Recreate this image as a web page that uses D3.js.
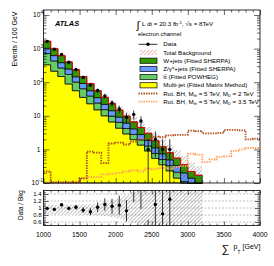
<!DOCTYPE html>
<html>
<head>
<meta charset="utf-8">
<script src="https://cdn.jsdelivr.net/npm/d3@7"></script>
<style>
  body { margin: 0; background: #fff; }
  svg { display: block; font-family: "Liberation Sans", Arial, sans-serif; }
</style>
</head>
<body>
<svg id="chart" width="274" height="266"></svg>
<script>
// background histograms, 100 GeV bins (lower edges)
const bkgBins = [1000,1100,1200,1300,1400,1500,1600,1700,1800,1900,2000,2100,2200,2300,2400,2500,2600,2700,2800,2900,3000,3100];
const wjets    = [631,380,234,151,89,56,35,21,13.5,8.7,5.6,3.7,2.5,1.7,1.15,0.7,0.46,0.31,0.22,0.15,0.08,0.07];
const zjets    = [315,190,117,76,44,28,17,10.6,6.7,4.4,2.8,1.9,1.3,0.85,0.6,0.36,0.24,0.16,0.12,0.09,0.07,0.06];
const ttbar    = [383,216,117,82,45,28.5,16,9,5.3,3.2,2.1,1.3,0.85,0.57,0.37,0.22,0.15,0.1,0.07,0.05,0.05,0.03];
const multijet = [331,214,148,89,56,35.5,22.9,15.1,10,6.6,4.3,2.9,1.95,1.35,0.9,0.54,0.35,0.23,0.14,0.06,0.02,0.01];
// relative uncertainty of total background
const bkgUncUp = [0.09,0.09,0.09,0.09,0.1,0.1,0.11,0.13,0.16,0.2,0.28,0.36,0.45,0.5,0.55,0.6,0.65,0.7,0.75,0.8,0.85,0.9];
const bkgUncDn = [0.18,0.18,0.18,0.18,0.18,0.19,0.2,0.21,0.23,0.26,0.3,0.36,0.42,0.48,0.52,0.56,0.6,0.65,0.7,0.75,0.8,0.85];
// observed events (first 18 bins)
const dataCounts = [1643,960,673,394,239,139,81,57,39,24,16,9,11,7,1,2,1,1];

// signal histograms over full range
const sigBins = [1000,1100,1200,1300,1400,1500,1600,1700,1800,1900,2000,2100,2200,2300,2400,2500,2600,2700,2800,2900,3000,3100,3200,3300,3400,3500,3600,3700,3800,3900];
const bhMD2  = [0.22,0.105,0.105,0.105,0.105,0.14,0.86,0.8,0.39,1.5,1.6,1.4,1.7,2.0,2.1,2.4,2.3,2.6,2.7,2.7,3.6,3.5,3.0,3.0,3.1,3.8,3.8,3.7,2.0,2.1];
const bhMD35 = [0.104,0.104,0.104,0.104,0.11,0.13,0.15,0.15,0.18,0.19,0.2,0.22,0.24,0.22,0.27,0.26,0.28,0.27,0.3,0.32,0.75,0.7,0.42,0.5,0.6,0.62,0.9,1.0,1.1,1.1];

const xTicks = [1000,1500,2000,2500,3000,3500,4000];
const yTicks = [0.1,1,10,100,1000,10000];
const yTickBase = ["10","1","10","10","10","10"];
const yTickExp  = ["-1","","","2","3","4"];
const ratioTicks = [0.6,0.8,1,1.2,1.4];
const ratioTickLabels = ["0.6","0.8","1","1.2","1.4"];

const colors = {
  wjets: '#339900', zjets: '#6699ff', ttbar: '#66cc66', multijet: '#ffff00',
  bh2: '#b34d1a', bh35: '#ffa060'
};

const frame = { l: 43.5, r: 260, t: 10, b: 183 };
const rframe = { t: 190.5, b: 225.5 };

const x = d3.scaleLinear().domain([1000, 4000]).range([frame.l, frame.r]);
const y = d3.scaleLog().domain([0.1, 14125]).range([frame.b, frame.t]).clamp(true);
const yr = d3.scaleLinear().domain([0.5, 1.5]).range([rframe.b, rframe.t]);
const yv = v => y(Math.max(v, 1e-3));

const svg = d3.select('#chart');
const defs = svg.append('defs');

defs.append('clipPath').attr('id', 'clipMain').append('rect')
  .attr('x', frame.l).attr('y', frame.t).attr('width', frame.r - frame.l).attr('height', frame.b - frame.t + 1);
defs.append('clipPath').attr('id', 'clipRatio').append('rect')
  .attr('x', frame.l).attr('y', rframe.t).attr('width', frame.r - frame.l).attr('height', rframe.b - rframe.t);

function hatch(id, color, w) {
  const p = defs.append('pattern').attr('id', id).attr('patternUnits', 'userSpaceOnUse')
    .attr('width', 2.6).attr('height', 2.6).attr('patternTransform', 'rotate(45)');
  p.append('line').attr('x1', 0).attr('y1', 0).attr('x2', 0).attr('y2', 2.6)
    .attr('stroke', color).attr('stroke-width', w);
}
hatch('hatchGrey', '#333', 0.6);
hatch('hatchRed', '#e03020', 0.7);

// ---- main panel ----
const gMain = svg.append('g').attr('clip-path', 'url(#clipMain)');

const rows = bkgBins.map((lo, i) => ({ lo, multijet: multijet[i], ttbar: ttbar[i], zjets: zjets[i], wjets: wjets[i] }));
const layers = d3.stack().keys(['multijet', 'ttbar', 'zjets', 'wjets'])(rows);

const area = d3.area().x(d => x(d.x)).y0(d => yv(d.y0)).y1(d => yv(d.y1));
layers.forEach(layer => {
  const pts = [];
  layer.forEach(d => {
    pts.push({ x: d.data.lo, y0: d[0], y1: d[1] });
    pts.push({ x: d.data.lo + 100, y0: d[0], y1: d[1] });
  });
  gMain.append('path').attr('d', area(pts))
    .attr('fill', colors[layer.key]).attr('stroke', '#000').attr('stroke-width', 0.7);
});

const total = layers[layers.length - 1].map(d => d[1]);

// uncertainty band
const bandPts = [];
bkgBins.forEach((lo, i) => {
  const d = { y0: total[i] * (1 - bkgUncDn[i]), y1: total[i] * (1 + bkgUncUp[i]) };
  bandPts.push({ x: lo, ...d });
  bandPts.push({ x: lo + 100, ...d });
});
gMain.append('path').attr('d', area(bandPts)).attr('fill', 'url(#hatchGrey)');

const line = d3.line().x(d => x(d[0])).y(d => yv(d[1]));
function steps(lows, vals) {
  const pts = [];
  lows.forEach((lo, i) => { pts.push([lo, vals[i]]); pts.push([lo + 100, vals[i]]); });
  return pts;
}
gMain.append('path').attr('d', line(steps(bkgBins, total)))
  .attr('fill', 'none').attr('stroke', '#ff0000').attr('stroke-width', 0.9);

// signals
gMain.append('path').attr('d', line(steps(sigBins, bhMD35)))
  .attr('fill', 'none').attr('stroke', colors.bh35).attr('stroke-width', 1.8).attr('stroke-dasharray', '1.4 1.1');
gMain.append('path').attr('d', line(steps(sigBins, bhMD2)))
  .attr('fill', 'none').attr('stroke', colors.bh2).attr('stroke-width', 1.8).attr('stroke-dasharray', '1.4 1.1');

// data
const dataPts = dataCounts.map((n, i) => ({ xc: bkgBins[i] + 50, n, err: Math.sqrt(n), bkg: total[i] }));
gMain.selectAll('line.err').data(dataPts).join('line').attr('class', 'err')
  .attr('x1', d => x(d.xc)).attr('x2', d => x(d.xc))
  .attr('y1', d => yv(d.n + d.err)).attr('y2', d => yv(d.n - d.err))
  .attr('stroke', '#000').attr('stroke-width', 0.8);
gMain.selectAll('circle.pt').data(dataPts).join('circle').attr('class', 'pt')
  .attr('cx', d => x(d.xc)).attr('cy', d => yv(d.n)).attr('r', 1.7).attr('fill', '#000');

// ---- ratio panel ----
const gRatio = svg.append('g').attr('clip-path', 'url(#clipRatio)');
gRatio.selectAll('line.grid').data(ratioTicks).join('line').attr('class', 'grid')
  .attr('x1', frame.l).attr('x2', frame.r).attr('y1', d => yr(d)).attr('y2', d => yr(d))
  .attr('stroke', '#999').attr('stroke-width', 0.6).attr('stroke-dasharray', '2 1.5');

const rArea = d3.area().x(d => x(d.x)).y0(d => yr(d.y0)).y1(d => yr(d.y1));
const rBand = [];
bkgBins.forEach((lo, i) => {
  const d = { y0: 1 - bkgUncDn[i], y1: 1 + bkgUncUp[i] };
  rBand.push({ x: lo, ...d });
  rBand.push({ x: lo + 100, ...d });
});
gRatio.append('path').attr('d', rArea(rBand)).attr('fill', 'url(#hatchGrey)');

gRatio.selectAll('line.rerr').data(dataPts).join('line').attr('class', 'rerr')
  .attr('x1', d => x(d.xc)).attr('x2', d => x(d.xc))
  .attr('y1', d => yr((d.n + d.err) / d.bkg)).attr('y2', d => yr((d.n - d.err) / d.bkg))
  .attr('stroke', '#000').attr('stroke-width', 0.8);
gRatio.selectAll('circle.rpt').data(dataPts).join('circle').attr('class', 'rpt')
  .attr('cx', d => x(d.xc)).attr('cy', d => yr(d.n / d.bkg)).attr('r', 1.7).attr('fill', '#000');

// ---- axes ----
function ticks(tr, axisFn, scale, values, size) {
  const g = svg.append('g').attr('transform', tr);
  g.call(axisFn(scale).tickValues(values).tickSize(size).tickFormat(''))
    .call(a => a.select('.domain').remove());
  g.selectAll('line').attr('stroke', '#000').attr('stroke-width', 0.6);
}
const xMinor = d3.range(1000, 4001, 100).filter(v => v % 500 !== 0);
const yMinor = [];
[0.1, 1, 10, 100, 1000, 10000].forEach(dec => { for (let k = 2; k <= 9; k++) if (k * dec < 14125) yMinor.push(k * dec); });
const rMinor = d3.range(0.55, 1.5, 0.05).filter(v => Math.abs(v * 5 - Math.round(v * 5)) > 0.01);

ticks(`translate(0,${frame.b})`, d3.axisBottom, x, xTicks, -5);
ticks(`translate(0,${frame.b})`, d3.axisBottom, x, xMinor, -2.5);
ticks(`translate(0,${frame.t})`, d3.axisTop, x, xTicks, -5);
ticks(`translate(0,${frame.t})`, d3.axisTop, x, xMinor, -2.5);
ticks(`translate(${frame.l},0)`, d3.axisLeft, y, yTicks, -6);
ticks(`translate(${frame.l},0)`, d3.axisLeft, y, yMinor, -3);
ticks(`translate(${frame.r},0)`, d3.axisRight, y, yTicks, -6);
ticks(`translate(${frame.r},0)`, d3.axisRight, y, yMinor, -3);

ticks(`translate(0,${rframe.b})`, d3.axisBottom, x, xTicks, -4);
ticks(`translate(0,${rframe.b})`, d3.axisBottom, x, xMinor, -2);
ticks(`translate(0,${rframe.t})`, d3.axisTop, x, xTicks, -4);
ticks(`translate(0,${rframe.t})`, d3.axisTop, x, xMinor, -2);
ticks(`translate(${frame.l},0)`, d3.axisLeft, yr, ratioTicks, -5);
ticks(`translate(${frame.l},0)`, d3.axisLeft, yr, rMinor, -2.5);
ticks(`translate(${frame.r},0)`, d3.axisRight, yr, ratioTicks, -5);
ticks(`translate(${frame.r},0)`, d3.axisRight, yr, rMinor, -2.5);

svg.append('rect').attr('x', frame.l).attr('y', frame.t).attr('width', frame.r - frame.l).attr('height', frame.b - frame.t)
  .attr('fill', 'none').attr('stroke', '#000').attr('stroke-width', 0.8);
svg.append('rect').attr('x', frame.l).attr('y', rframe.t).attr('width', frame.r - frame.l).attr('height', rframe.b - rframe.t)
  .attr('fill', 'none').attr('stroke', '#000').attr('stroke-width', 0.8);

// tick labels
yTicks.forEach((v, i) => {
  const t = svg.append('text').attr('y', y(v) + 2.3).attr('text-anchor', 'end')
    .attr('x', yTickExp[i] ? 43 : 40.5).style('font-size', '6.6px');
  t.append('tspan').text(yTickBase[i]);
  if (yTickExp[i]) t.append('tspan').attr('dy', -3).style('font-size', '4.6px').text(yTickExp[i]);
});
ratioTicks.forEach((v, i) => {
  svg.append('text').attr('x', 41.5).attr('y', yr(v) + 2.1).attr('text-anchor', 'end')
    .style('font-size', '6px').text(ratioTickLabels[i]);
});
xTicks.forEach(v => {
  svg.append('text').attr('x', x(v)).attr('y', 237).attr('text-anchor', 'middle')
    .style('font-size', '6.8px').text(v);
});

// axis titles
svg.append('text').attr('transform', 'translate(16.5,11.5) rotate(-90)').attr('text-anchor', 'end')
  .style('font-size', '7px').text('Events / 100 GeV');
svg.append('text').attr('transform', 'translate(23.3,205) rotate(-90)').attr('text-anchor', 'middle')
  .style('font-size', '6.4px').text('Data / Bkg');
svg.append('text').attr('x', 221.5).attr('y', 253).style('font-size', '11px').text('\u2211');
svg.append('text').attr('x', 233.5).attr('y', 249).style('font-size', '7px').text('p');
svg.append('text').attr('x', 237.6).attr('y', 253.5).style('font-size', '4.6px').text('T');
svg.append('text').attr('x', 242.5).attr('y', 249).style('font-size', '7px').text('[GeV]');

// labels
svg.append('text').attr('x', 55).attr('y', 26).style('font-size', '7.4px')
  .style('font-weight', 'bold').style('font-style', 'italic').text('ATLAS');
svg.append('text').attr('x', 136.5).attr('y', 28.5).style('font-size', '11px').text('\u222B');
const lumi = svg.append('text').attr('x', 142).attr('y', 26).style('font-size', '6.2px');
lumi.append('tspan').text('L dt = 20.3 fb');
lumi.append('tspan').attr('dy', -2.5).style('font-size', '4.4px').text('-1');
lumi.append('tspan').attr('dy', 2.5).text(', \u221As = 8TeV');
svg.append('text').attr('x', 138).attr('y', 36).style('font-size', '5.9px').text('electron channel');

// legend
const legendY0 = 44.3, legendDy = 8.2, symX0 = 138.5, symX1 = 157.5, textX = 163.3;
const legendItems = [
  { type: 'data', label: ['Data'] },
  { type: 'box', fill: 'url(#hatchRed)', label: ['Total Background'] },
  { type: 'box', fill: colors.wjets, label: ['W+jets (Fitted SHERPA)'] },
  { type: 'box', fill: colors.zjets, label: ['Z/\u03B3*+jets (Fitted SHERPA)'] },
  { type: 'box', fill: colors.ttbar, label: ['tt\u0304 (Fitted POWHEG)'] },
  { type: 'box', fill: colors.multijet, label: ['Multi-jet (Fitted Matrix Method)'] },
  { type: 'line', stroke: colors.bh2, label: ['Rot. BH, M', 'th', ' = 5 TeV, M', 'D', ' = 2 TeV'] },
  { type: 'line', stroke: colors.bh35, label: ['Rot. BH, M', 'th', ' = 5 TeV, M', 'D', ' = 3.5 TeV'] }
];
legendItems.forEach((it, i) => {
  const cy = legendY0 + i * legendDy;
  if (it.type === 'data') {
    svg.append('line').attr('x1', symX0).attr('x2', symX1).attr('y1', cy).attr('y2', cy)
      .attr('stroke', '#000').attr('stroke-width', 0.8);
    svg.append('circle').attr('cx', (symX0 + symX1) / 2).attr('cy', cy).attr('r', 1.7).attr('fill', '#000');
  } else if (it.type === 'box') {
    svg.append('rect').attr('x', symX0 + 1.5).attr('y', cy - 2.6).attr('width', symX1 - symX0 - 2).attr('height', 5.2)
      .attr('fill', it.fill).attr('stroke', i === 1 ? 'none' : '#000').attr('stroke-width', 0.7);
  } else {
    svg.append('line').attr('x1', symX0).attr('x2', symX1).attr('y1', cy).attr('y2', cy)
      .attr('stroke', it.stroke).attr('stroke-width', 1.8).attr('stroke-dasharray', '1.4 1.1');
  }
  const t = svg.append('text').attr('x', textX).attr('y', cy + 2.1).style('font-size', '6.2px');
  it.label.forEach((s, k) => {
    const sub = k % 2 === 1;
    t.append('tspan').attr('dy', sub ? 1.5 : (k > 0 ? -1.5 : 0))
      .style('font-size', sub ? '4.2px' : '6.2px').text(s);
  });
});
</script>
</body>
</html>
